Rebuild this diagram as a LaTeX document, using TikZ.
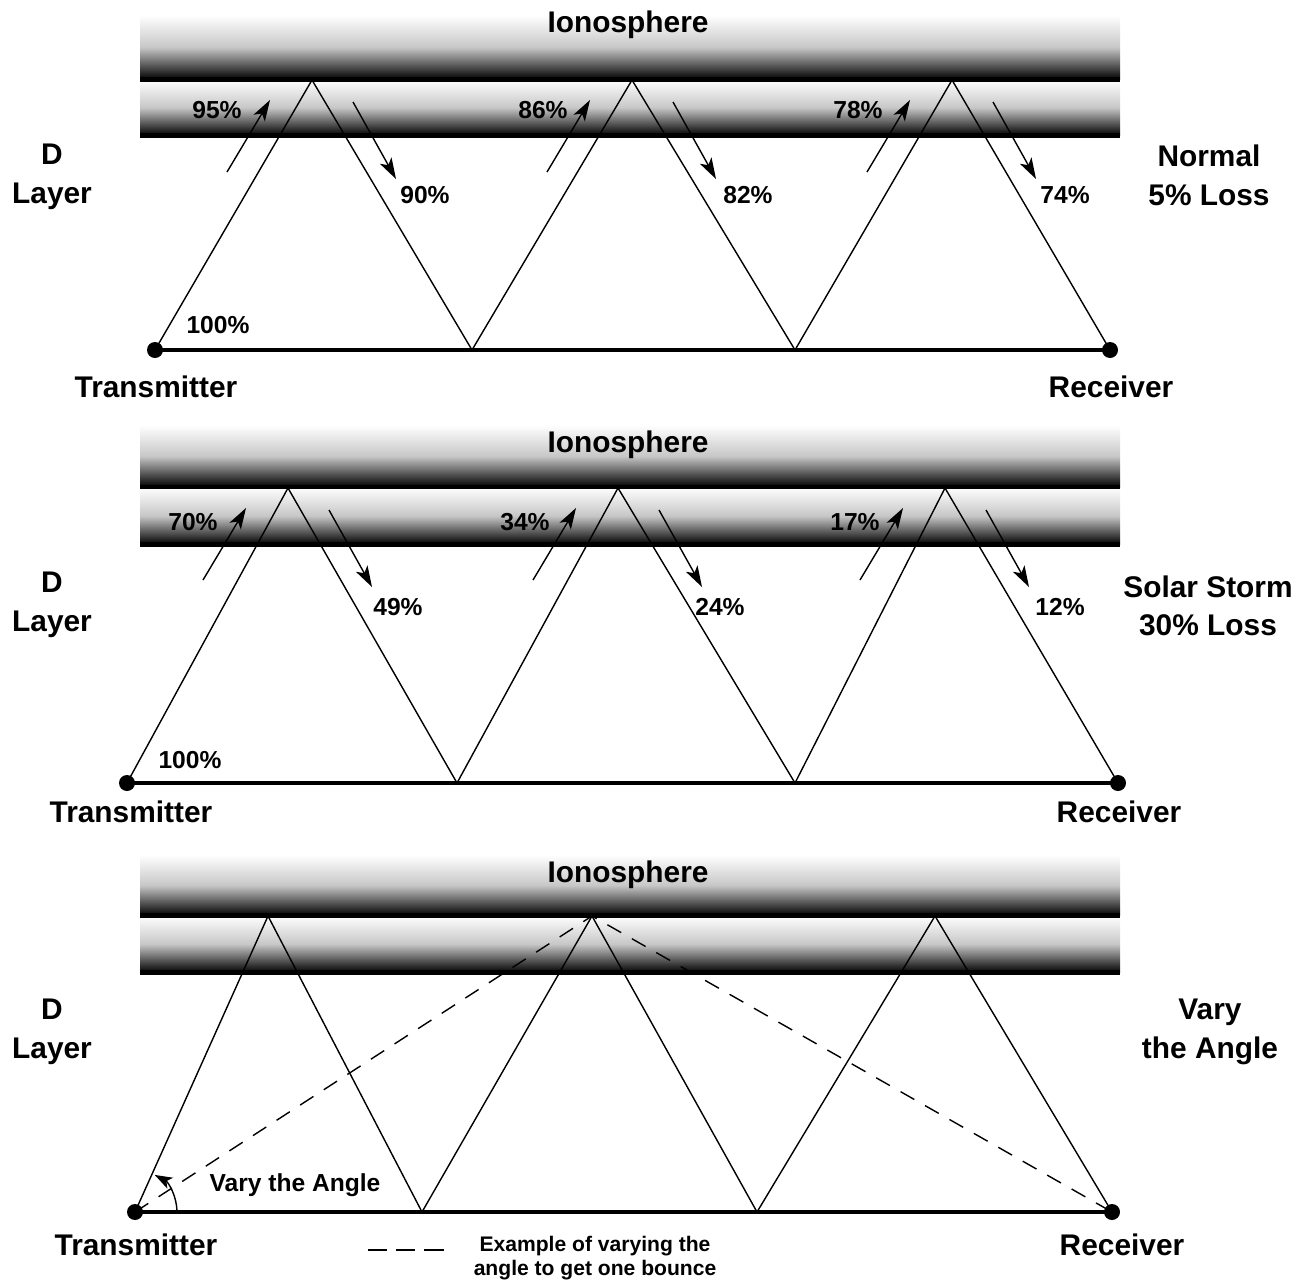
\documentclass[tikz,border=0pt]{standalone}
\usepackage{fontspec}
\setmainfont{Liberation Sans}
\usetikzlibrary{arrows.meta,calc}

\begin{document}
\begin{tikzpicture}[x=0.02cm,y=-0.02cm,>={Stealth[length=12pt,width=7.5pt,inset=3pt]},
	ray/.style={line width=0.8pt},
	flow/.style={->,line width=0.8pt},
	ground/.style={line width=2.2pt},
	sky/.style={top color=white,bottom color=black,middle color=black!22},
	skyline/.style={line width=2.6pt},
	dot/.style={circle,fill=black,inner sep=0pt,minimum size=0.32cm},
	pct/.style={font=\bfseries\fontsize{14}{17}\selectfont},
	side/.style={align=center,font=\bfseries\fontsize{17}{22}\selectfont},
	site/.style={font=\bfseries\fontsize{17}{20}\selectfont}]
	\useasboundingbox (0,0) rectangle (1311,1285);

	\foreach \top/\mid/\bot in {15/79.5/135.5, 425/487/544.5, 855/915.5/972.5} {
		\shade[sky] (140,\top) rectangle (1120,\mid);
		\shade[sky] (140,\mid) rectangle (1120,\bot);
		\draw[skyline] (140,\mid) -- (1120,\mid);
		\draw[skyline] (140,\bot) -- (1120,\bot);
	}

	\node[site] (iono1) at (628,25) {Ionosphere};
	\node[site] (iono2) at (628,445) {Ionosphere};
	\node[site] (iono3) at (628,875) {Ionosphere};

	\node[dot] (tx1) at (155,350) {};
	\node[dot] (rx1) at (1110,350) {};
	\coordinate (p11) at (312,80);
	\coordinate (g11) at (472,350);
	\coordinate (p12) at (632,80);
	\coordinate (g12) at (795,350);
	\coordinate (p13) at (952,80);
	\draw[ground] (tx1.center) -- (rx1.center);
	\draw[ray] (tx1.center) -- (p11) -- (g11) -- (p12) -- (g12) -- (p13) -- (rx1.center);
	\node[site] (txl1) at (156,387) {Transmitter};
	\node[site] (rxl1) at (1111,387) {Receiver};
	\node[side] (dl1) at (52,177) {D\\Layer};
	\node[side] (case1) at (1209,175) {Normal\\5\% Loss};
	\node[pct] (start1) at (218,325) {100\%};
	\node[pct] (u11) at (217,110) {95\%};
	\node[pct] (d11) at (425,195) {90\%};
	\node[pct] (u12) at (543,110) {86\%};
	\node[pct] (d12) at (748,195) {82\%};
	\node[pct] (u13) at (858,110) {78\%};
	\node[pct] (d13) at (1065,195) {74\%};

	\node[dot] (tx2) at (127,783) {};
	\node[dot] (rx2) at (1118,783) {};
	\coordinate (p21) at (288,488);
	\coordinate (g21) at (457,783);
	\coordinate (p22) at (618,488);
	\coordinate (g22) at (795,783);
	\coordinate (p23) at (945,488);
	\draw[ground] (tx2.center) -- (rx2.center);
	\draw[ray] (tx2.center) -- (p21) -- (g21) -- (p22) -- (g22) -- (p23) -- (rx2.center);
	\node[site] (txl2) at (131,812) {Transmitter};
	\node[site] (rxl2) at (1119,812) {Receiver};
	\node[side] (dl2) at (52,605) {D\\Layer};
	\node[side] (case2) at (1208,606) {Solar Storm\\30\% Loss};
	\node[pct] (start2) at (190,760) {100\%};
	\node[pct] (u21) at (193,522) {70\%};
	\node[pct] (d21) at (398,607) {49\%};
	\node[pct] (u22) at (525,522) {34\%};
	\node[pct] (d22) at (720,607) {24\%};
	\node[pct] (u23) at (855,522) {17\%};
	\node[pct] (d23) at (1060,607) {12\%};

	\foreach \p in {p11,p12,p13,p21,p22,p23} {
		\coordinate (\p-ua) at ($(\p)+(-85,92)$);
		\coordinate (\p-ub) at ($(\p)+(-42,20)$);
		\coordinate (\p-da) at ($(\p)+(41,22)$);
		\coordinate (\p-db) at ($(\p)+(84,99)$);
		\draw[flow] (\p-ua) -- (\p-ub);
		\draw[flow] (\p-da) -- (\p-db);
	}

	\node[dot] (tx3) at (135,1212) {};
	\node[dot] (rx3) at (1112,1212) {};
	\coordinate (p31) at (268,916);
	\coordinate (g31) at (422,1212);
	\coordinate (p32) at (592,916);
	\coordinate (g32) at (757,1212);
	\coordinate (p33) at (935,916);
	\draw[ground] (tx3.center) -- (rx3.center);
	\draw[ray] (tx3.center) -- (p31) -- (g31) -- (p32) -- (g32) -- (p33) -- (rx3.center);
	\draw[ray,dash pattern=on 9pt off 7pt] (tx3.center) -- (p32) -- (rx3.center);
	\coordinate (arc3) at ($(tx3)+(42,0)$);
	\draw[flow,>={Stealth[length=10pt,width=7pt,inset=2.5pt]}] (arc3) arc[start angle=0,end angle=-62,radius=42];
	\node[pct] (vary3) at (295,1185) {Vary the Angle};
	\node[site] (txl3) at (136,1245) {Transmitter};
	\node[site] (rxl3) at (1122,1245) {Receiver};
	\node[side] (dl3) at (52,1032) {D\\Layer};
	\node[side] (case3) at (1210,1032) {Vary\\the Angle};

	\coordinate (keyA) at (368,1250);
	\coordinate (keyB) at (447,1250);
	\draw[line width=1.2pt,dash pattern=on 11pt off 5pt] (keyA) -- (keyB);
	\node[align=center,font=\bfseries\fontsize{12}{14}\selectfont] (key) at (595,1258) {Example of varying the\\angle to get one bounce};
\end{tikzpicture}
\end{document}
